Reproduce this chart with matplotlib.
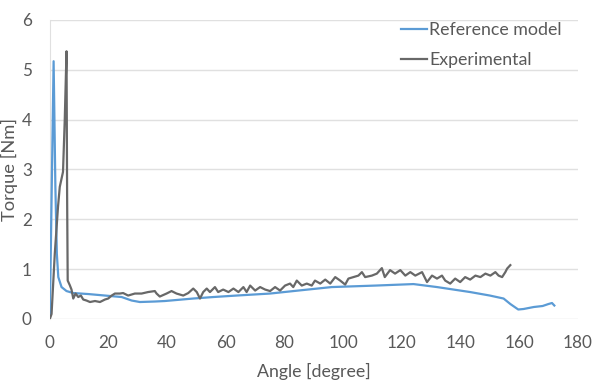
import matplotlib
matplotlib.use("Agg")
import matplotlib.pyplot as plt

# Reference model (blue)
ref_angle = [0, 1.3, 1.9, 2.4, 2.9, 4.0, 5.7, 8.0, 13.1, 18.8, 24.5, 27.9, 30.7, 35.8, 39.2,
             48.9, 55.7, 63.7, 75.1, 84.7, 96.1, 111.0, 124.0, 132.0, 143.3, 150.0, 154.7,
             157.0, 159.7, 161.5, 165.0, 168.0, 170.0, 171.2, 172.0]
ref_torque = [0.0, 5.17, 2.65, 1.31, 0.84, 0.64, 0.56, 0.52, 0.50, 0.47, 0.44, 0.37, 0.34, 0.35, 0.36,
              0.41, 0.44, 0.47, 0.51, 0.57, 0.64, 0.67, 0.70, 0.64, 0.54, 0.47, 0.41,
              0.30, 0.19, 0.20, 0.24, 0.26, 0.30, 0.32, 0.27]

# Experimental (grey)
exp_angle = [0, 0.6, 1.7, 2.8, 3.4, 4.5, 5.1, 5.7, 5.9, 6.1, 6.8, 7.4, 8.0, 8.8, 9.7, 10.6, 11.4,
             12.5, 13.7, 15.4, 17.1, 18.8, 19.9, 21.1, 22.2, 23.9, 25.0, 26.7, 29.0, 31.3,
             33.5, 35.8, 36.4, 37.5, 39.8, 41.5, 43.2, 45.5, 47.2, 48.9, 50.1, 51.2, 52.3,
             53.5, 54.6, 56.3, 57.4, 59.1, 60.9, 62.6, 64.3, 66.0, 67.1, 68.3, 70.0, 71.7,
             73.4, 75.1, 76.8, 78.5, 80.2, 81.9, 83.0, 84.2, 85.9, 87.6, 89.3, 90.4, 92.2,
             93.9, 95.6, 97.3, 99.0, 100.7, 101.8, 103.5, 105.2, 106.4, 107.5, 109.8,
             111.5, 113.2, 114.2, 116.0, 117.7, 119.5, 121.2, 122.9, 124.6, 126.9, 128.6,
             130.3, 132.0, 133.7, 134.8, 136.5, 138.2, 139.9, 141.6, 143.3, 145.1, 146.8,
             148.5, 150.2, 151.9, 153.0, 154.2, 155.3, 155.9, 157.0]
exp_torque = [0.0, 0.10, 1.31, 2.25, 2.65, 2.95, 4.0, 5.37, 2.5, 0.77, 0.68, 0.59, 0.41, 0.51, 0.44,
              0.47, 0.39, 0.37, 0.34, 0.36, 0.34, 0.39, 0.41, 0.47, 0.51, 0.51, 0.52, 0.47, 0.51,
              0.51, 0.54, 0.56, 0.51, 0.45, 0.51, 0.56, 0.51, 0.47, 0.52, 0.61, 0.54, 0.41, 0.54,
              0.61, 0.54, 0.64, 0.54, 0.59, 0.54, 0.61, 0.54, 0.64, 0.54, 0.67, 0.57, 0.64,
              0.59, 0.56, 0.64, 0.57, 0.67, 0.71, 0.64, 0.77, 0.67, 0.71, 0.67, 0.77, 0.71,
              0.79, 0.71, 0.84, 0.77, 0.69, 0.81, 0.84, 0.87, 0.94, 0.84, 0.87,
              0.91, 1.02, 0.84, 0.98, 0.91, 0.98, 0.87, 0.94, 0.87, 0.94, 0.74,
              0.87, 0.81, 0.87, 0.77, 0.71, 0.81, 0.74, 0.84, 0.79, 0.87, 0.84,
              0.91, 0.87, 0.94, 0.87, 0.84, 0.94, 1.01, 1.08]

x_ticks = [0, 20, 40, 60, 80, 100, 120, 140, 160, 180]
y_ticks = [0, 1, 2, 3, 4, 5, 6]

plt.rcParams['font.family'] = ['Lato', 'DejaVu Sans']
text_color = '#595959'

fig = plt.figure(figsize=(6.0, 3.82), dpi=100)
ax = fig.add_axes([0.083, 0.165, 0.880, 0.783])

ax.plot(ref_angle, ref_torque, color='#5B9BD5', lw=1.6, label='Reference model', zorder=3)
ax.plot(exp_angle, exp_torque, color='#686868', lw=1.6, label='Experimental', zorder=3)

ax.set_xlim(0, 180)
ax.set_ylim(0, 6)
ax.set_xticks(x_ticks)
ax.set_yticks(y_ticks)
ax.grid(axis='y', color='#e0e0e0', lw=1.0)
ax.set_axisbelow(True)
for s in ['top', 'right', 'bottom']:
    ax.spines[s].set_visible(False)
ax.spines['left'].set_color('#e0e0e0')
ax.tick_params(length=0, labelsize=12.3, colors=text_color)
ax.tick_params(axis='x', pad=11.5)
ax.tick_params(axis='y', pad=13)
ax.set_xlabel('Angle [degree]', fontsize=12.8, color=text_color, labelpad=9)
ax.set_ylabel('Torque [Nm]', fontsize=13.2, color=text_color, labelpad=3)

leg = ax.legend(loc='upper right', bbox_to_anchor=(1.0, 1.045), frameon=False, fontsize=12.8,
                handlelength=1.45, handletextpad=0.15, labelspacing=0.75, labelcolor=text_color)

fig.savefig('out.png', dpi=100)
